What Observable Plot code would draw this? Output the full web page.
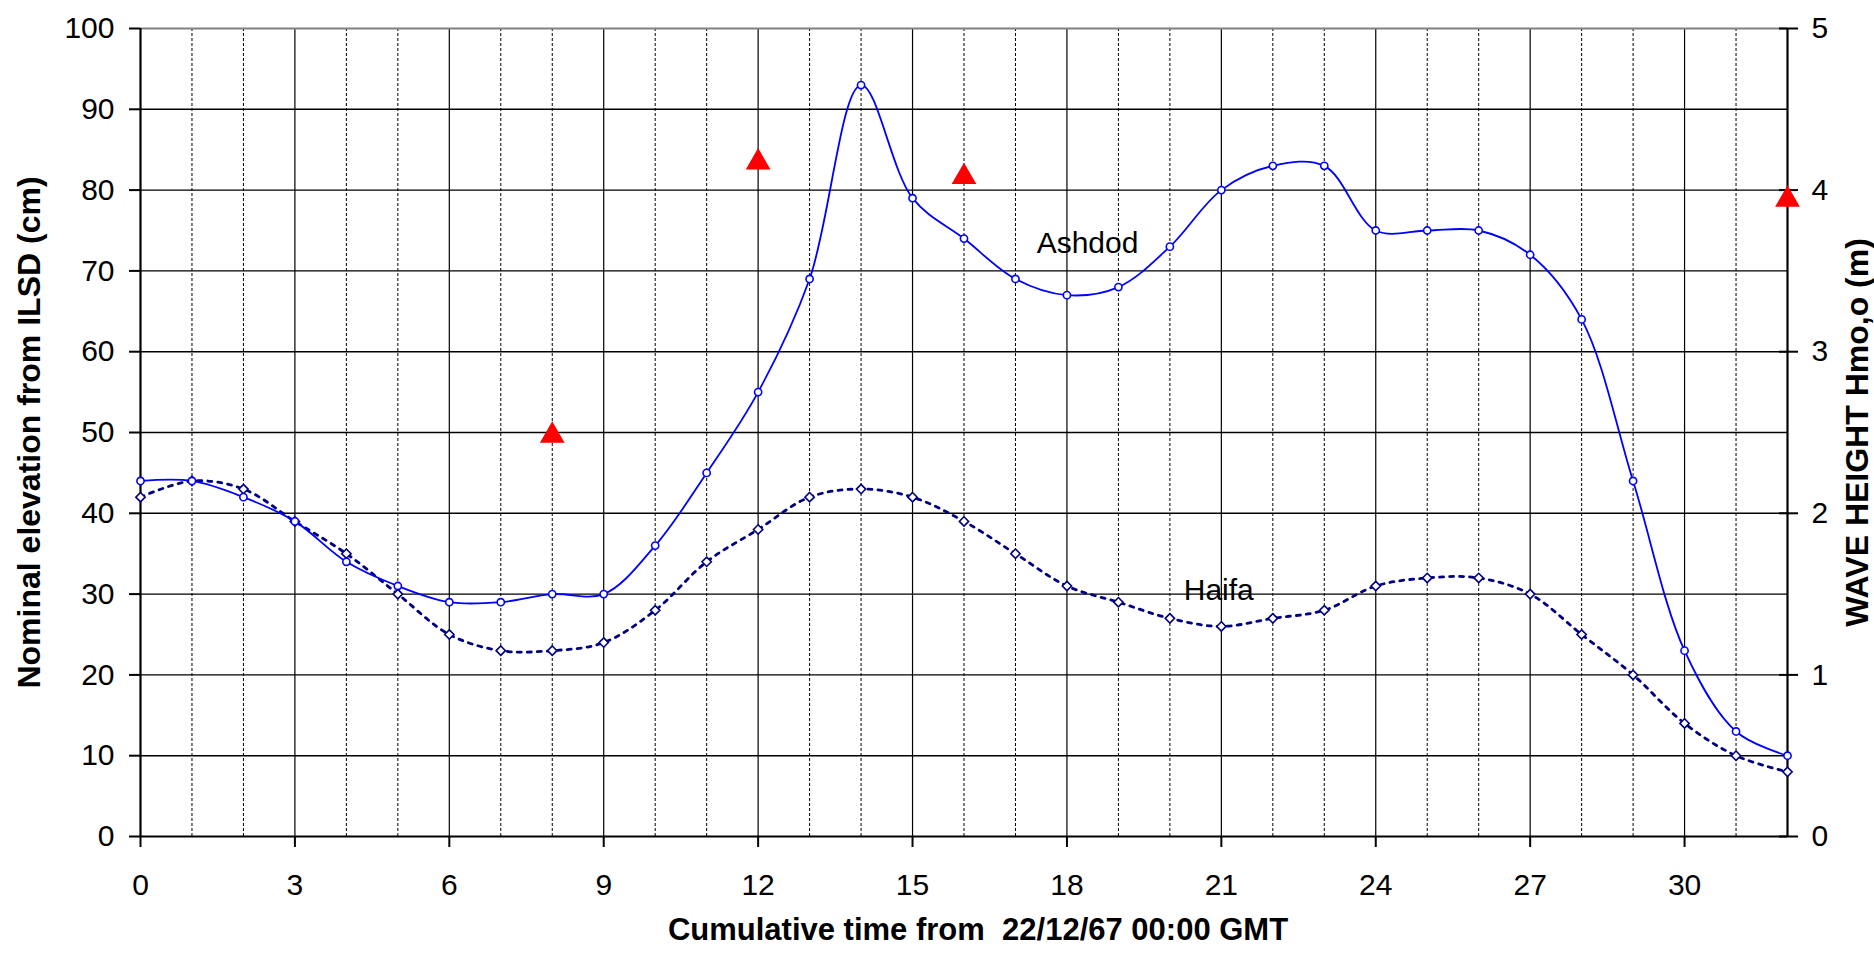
<!DOCTYPE html>
<html>
<head>
<meta charset="utf-8">
<script src="https://cdn.jsdelivr.net/npm/d3@7"></script>
<script src="https://cdn.jsdelivr.net/npm/@observablehq/plot@0.6"></script>
<style>
  html, body { margin: 0; padding: 0; background: #fff; }
  svg text { white-space: pre; }
</style>
</head>
<body>
<div id="chart"></div>
<script>
// ---- data ----
const hours = [0,1,2,3,4,5,6,7,8,9,10,11,12,13,14,15,16,17,18,19,20,21,22,23,24,25,26,27,28,29,30,31,32];
const ashdod = [44,44,42,39,34,31,29,29,30,30,36,45,55,69,93,79,74,69,67,68,73,80,83,83,75,75,75,72,64,44,23,13,10];
const haifa  = [42,44,43,39,35,30,25,23,23,24,28,34,38,42,43,42,39,35,31,29,27,26,27,28,31,32,32,30,25,20,14,10,8];
const waveHours  = [8, 12, 16, 32];
const waveHeight = [2.5, 4.19, 4.1, 3.96]; // m (right axis)
const xTicks = [0,3,6,9,12,15,18,21,24,27,30];
const yTicks = [0,10,20,30,40,50,60,70,80,90,100];
const waveTicks = [0,1,2,3,4,5];
const seriesNames = ["Ashdod", "Haifa"];
const labelX = [18.4, 20.95];
const labelY = [73.4, 30.4];
const xTitle = "Cumulative time from  22/12/67 00:00 GMT";
const yTitle = "Nominal elevation from ILSD (cm)";
const y2Title = "WAVE HEIGHT Hmo,o (m)";

// ---- derived tables ----
const ashdodData = hours.map((h, i) => ({h, v: ashdod[i]}));
const haifaData  = hours.map((h, i) => ({h, v: haifa[i]}));
const waveData   = waveHours.map((h, i) => ({h, m: waveHeight[i]}));
const minorX = hours.filter(h => !xTicks.includes(h) && h !== 32);
const cmPerMetre = 100 / waveTicks[waveTicks.length - 1];
const labels = seriesNames.map((name, i) => ({name, x: labelX[i], y: labelY[i]}));

const chart = Plot.plot({
  width: 1874,
  height: 954,
  marginLeft: 140,
  marginRight: 87,
  marginTop: 28,
  marginBottom: 118,
  x: {type: "linear", domain: [0, 32]},
  y: {type: "linear", domain: [0, 100]},
  style: {fontFamily: "'Liberation Sans', Arial, sans-serif", fontSize: "30px", background: "#fff", color: "#000"},
  marks: [
    // minor vertical grid (dashed)
    Plot.ruleX(minorX, {stroke: "#000", strokeWidth: 1, strokeDasharray: "3,2", y1: 0, y2: 100}),
    // major vertical grid
    Plot.ruleX(xTicks.filter(d => d !== 0), {stroke: "#000", strokeWidth: 1.2, y1: 0, y2: 100}),
    // horizontal grid
    Plot.ruleY(yTicks.filter(d => d !== 0 && d !== 100), {stroke: "#000", strokeWidth: 1.4}),
    Plot.ruleY([100], {stroke: "#808080", strokeWidth: 2.2}),
    // axes lines
    Plot.ruleY([0], {stroke: "#000", strokeWidth: 2.2}),
    Plot.ruleX([0, 32], {stroke: "#000", strokeWidth: 2.2, y1: 0, y2: 100}),
    Plot.axisX({ticks: xTicks, tickSize: 11, tickPadding: 26, label: null, strokeWidth: 2, fontSize: 30}),
    Plot.axisY({anchor: "left", ticks: yTicks, tickSize: 11, tickPadding: 15, label: null, strokeWidth: 2, fontSize: 30}),
    Plot.axisY({anchor: "right", ticks: waveTicks.map(d => d * cmPerMetre), tickFormat: d => String(d / cmPerMetre),
      tickSize: 10, tickPadding: 14, label: null, strokeWidth: 2, fontSize: 30}),
    // inner half of right-axis ticks
    Plot.axisY({anchor: "right", ticks: waveTicks.map(d => d * cmPerMetre), tickFormat: () => "",
      tickSize: 9, dx: -9, label: null, strokeWidth: 2}),
    // Haifa
    Plot.line(haifaData, {x: "h", y: "v", curve: "catmull-rom", stroke: "#000080", strokeWidth: 2.8, strokeDasharray: "4,6"}),
    Plot.dot(haifaData, {x: "h", y: "v", symbol: "diamond2", r: 4.2, stroke: "#000080", strokeWidth: 1.6, fill: "#fff"}),
    // Ashdod
    Plot.line(ashdodData, {x: "h", y: "v", curve: "catmull-rom", stroke: "#0000FF", strokeWidth: 1.8}),
    Plot.dot(ashdodData, {x: "h", y: "v", symbol: "circle", r: 3.6, stroke: "#0000FF", strokeWidth: 1.6, fill: "#fff"}),
    // wave height triangles (right axis)
    Plot.dot(waveData, {x: "h", y: d => d.m * cmPerMetre, symbol: "triangle", r: 9.2, fill: "#FF0000", stroke: "none", dy: 3}),
    // series labels
    Plot.text(labels, {x: "x", y: "y", text: "name", fontSize: 30, fill: "#000"}),
    // axis titles
    Plot.text([xTitle], {frameAnchor: "bottom", textAnchor: "middle", dx: 14, dy: 103, fontWeight: "bold", fontSize: 31, fill: "#000"}),
    Plot.text([yTitle], {frameAnchor: "left", textAnchor: "middle", dx: -111, rotate: -90, fontWeight: "bold", fontSize: 32, fill: "#000"}),
    Plot.text([y2Title], {frameAnchor: "right", textAnchor: "middle", dx: 70, rotate: -90, fontWeight: "bold", fontSize: 32, fill: "#000"})
  ]
});
document.getElementById("chart").appendChild(chart);
</script>
</body>
</html>
